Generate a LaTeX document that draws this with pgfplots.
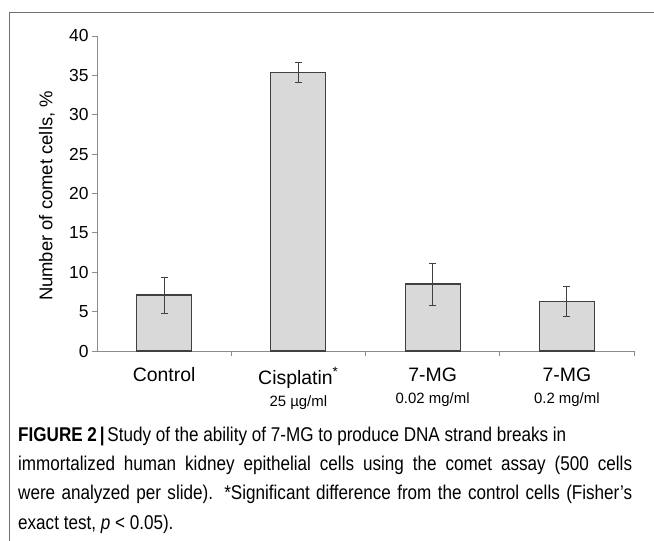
\documentclass[border=0pt]{standalone}
\usepackage{fontspec}
\setmainfont{Liberation Sans}
\usepackage{graphicx}
\usepackage{pgfplots}
\pgfplotsset{compat=1.18}
\definecolor{axisgray}{HTML}{8C8C8C}
\definecolor{barfill}{HTML}{D9D9D9}
\definecolor{bardraw}{HTML}{404040}
\definecolor{framegray}{HTML}{707070}
\newlength\capw
\newcommand{\capfont}{\fontsize{20}{24}\selectfont}
\newcommand{\capone}{\textbf{FIGURE 2\,|}\,Study of the ability of 7-MG to produce DNA strand breaks in}
\begin{document}
\settowidth{\capw}{\capfont\capone}%
\pgfmathsetmacro\capsx{548bp/\capw}%
\pgfmathsetlengthmacro\capinner{614bp/\capsx}%
\begin{tikzpicture}
\useasboundingbox (0,0) rectangle (654bp,541bp);
\draw[framegray, line width=1.3bp] (9.3bp,0) -- (9.3bp,528.3bp) -- (654bp,528.3bp);
\begin{axis}[
  at={(97bp,190bp)}, anchor=south west, scale only axis,
  width=537bp, height=315bp,
  xmin=-0.5, xmax=3.5, ymin=0, ymax=40,
  axis x line=bottom, axis y line=left,
  axis line style={axisgray, line width=0.9bp, -},
  every tick/.style={axisgray, line width=0.9bp},
  ytick={0,5,...,40},
  xtick={0.5,1.5,2.5,3.5}, xticklabels={},
  tick align=outside, major tick length=5bp,
  extra x ticks={0,1,2,3},
  extra x tick labels={Control,
    {Cisplatin\textsuperscript{*}\\\fontsize{15}{21}\selectfont 25 µg/ml},
    {7-MG\\\fontsize{15}{21}\selectfont 0.02 mg/ml},
    {7-MG\\\fontsize{15}{21}\selectfont 0.2 mg/ml}},
  extra x tick style={major tick length=0pt,
    xticklabel style={font=\fontsize{19.5}{22}\selectfont, align=center, anchor=north, yshift=-13bp}},
  yticklabel style={font=\fontsize{17.5}{20}\selectfont},
  /pgf/number format/assume math mode=true,
  clip=false,
]
\addplot[ybar, bar width=55bp, fill=barfill, draw=bardraw, line width=1.2bp,
  error bars/.cd, y dir=both, y explicit, error mark=|,
  error bar style={color=bardraw, line width=0.8bp},
  error mark options={bardraw, line width=0.8bp, mark size=3.5bp}]
  coordinates {
  (0,7.1) +- (0,2.3)
  (1,35.4) +- (0,1.3)
  (2,8.5) +- (0,2.65)
  (3,6.3) +- (0,1.85)
};
\end{axis}
\node[rotate=90, font=\fontsize{18.5}{22}\selectfont] at (47bp,345bp) {Number of comet cells, \%};
\node[anchor=base west, inner sep=0, font=\capfont] at (18bp,99bp)
  {\scalebox{\capsx}[1]{\capone}};
\node[anchor=base west, inner sep=0, font=\capfont] at (18bp,70bp)
  {\scalebox{\capsx}[1]{\makebox[\capinner][s]{immortalized human kidney epithelial cells using the comet assay (500 cells}}};
\node[anchor=base west, inner sep=0, font=\capfont] at (18bp,41bp)
  {\scalebox{\capsx}[1]{\makebox[\capinner][s]{were analyzed per slide). *Significant difference from the control cells (Fisher’s}}};
\node[anchor=base west, inner sep=0, font=\capfont] at (18bp,12bp)
  {\scalebox{\capsx}[1]{exact test, \textit{p} < 0.05).}};
\end{tikzpicture}
\end{document}
